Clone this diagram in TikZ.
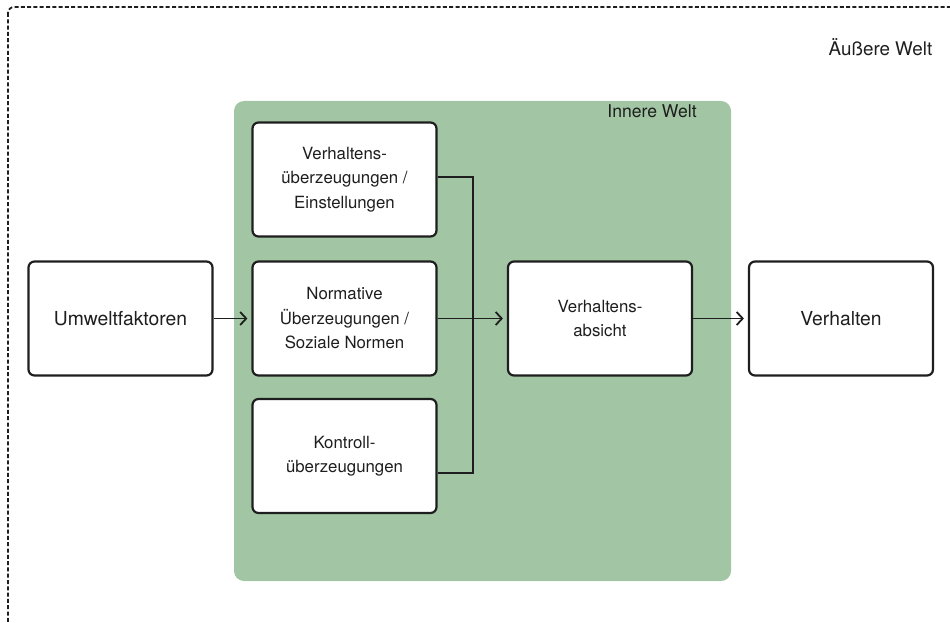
\documentclass[tikz,border=0pt]{standalone}
\usepackage{fontspec}
\setmainfont{TeX Gyre Heros}
\usetikzlibrary{arrows.meta}
\definecolor{inner}{RGB}{162,198,164}
\definecolor{ink}{RGB}{30,30,30}
\tikzset{
  box/.style={draw=ink, line width=2.2pt, fill=white, rounded corners=6pt,
    minimum width=184pt, minimum height=114pt, align=center, text=ink, inner sep=0pt},
  bigtext/.style={font=\fontsize{19.3}{24}\selectfont},
  smalltext/.style={font=\fontsize{16.8}{24.5}\selectfont},
  conn/.style={draw=ink, line width=1.8pt},
  arr/.style={conn, -{Straight Barb[length=6pt,width=13pt,line width=1.8pt]}, shorten >=4pt},
  outer/.style={draw=ink, line width=1.8pt, dash pattern=on 4pt off 2.3pt, rounded corners=6pt},
  label/.style={text=ink, inner sep=0pt}
}
\begin{document}
\begin{tikzpicture}[x=1pt,y=-1pt]
\useasboundingbox (0,0) rectangle (950,623);
\begin{scope}
\clip (0,0) rectangle (950,623);
\draw[outer] (8,7) rectangle (980,660);
\end{scope}
\node[label, font=\fontsize{18.8}{22}\selectfont] (aw) at (880.5,47) {Äußere Welt};
\fill[inner, rounded corners=10pt] (234,101) rectangle (731,581);
\node[label, font=\fontsize{17.6}{20}\selectfont] (iw) at (652,111) {Innere Welt};
\node[box, bigtext] (u) at (120.5,318.5) {Umweltfaktoren};
\node[box, smalltext] (v) at (344.5,179.5) {Verhaltens-\\überzeugungen /\\Einstellungen};
\node[box, smalltext] (n) at (344.5,318.5) {Normative\\Überzeugungen /\\Soziale Normen};
\node[box, smalltext] (k) at (344.5,456) {Kontroll-\\überzeugungen};
\node[box, smalltext] (a) at (600,318.5) {Verhaltens-\\absicht};
\node[box, bigtext] (b) at (841,318.5) {Verhalten};
\coordinate (jt) at (473,177);
\coordinate (jb) at (473,473);
\draw[arr] (u.east) -- (n.west);
\draw[conn] (v.east |- jt) -- (jt) -- (jb) -- (k.east |- jb);
\draw[arr] (n.east) -- (a.west);
\draw[arr] (a.east) -- (b.west);
\end{tikzpicture}
\end{document}
